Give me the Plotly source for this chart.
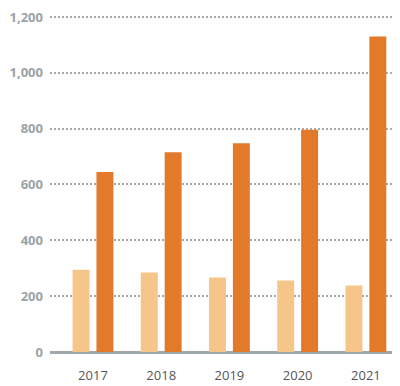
import plotly.graph_objects as go

years = ["2017", "2018", "2019", "2020", "2021"]
series_light = [295, 285, 267, 256, 238]
series_dark = [645, 715, 748, 796, 1130]
y_ticks = [0, 200, 400, 600, 800, 1000, 1200]
y_labels = ["0", "200", "400", "600", "800", "1,000", "1,200"]

fig = go.Figure()
fig.add_trace(go.Bar(x=years, y=series_light, marker_color="#F5C589", marker_line_width=0, name="A"))
fig.add_trace(go.Bar(x=years, y=series_dark, marker_color="#E37A2A", marker_line_width=0, name="B"))

fig.update_layout(
    width=392, height=378,
    margin=dict(l=42, r=0, t=7, b=34),
    paper_bgcolor="white", plot_bgcolor="white",
    showlegend=False,
    barmode="group", bargap=0.30, bargroupgap=0.29,
    xaxis=dict(
        type="category", range=[-0.63, 4.5], showgrid=False,
        tickfont=dict(family="Open Sans", size=13, color="#555555"),
        ticks="", ticklabelstandoff=14, automargin=False,
        showline=False, zeroline=False,
    ),
    yaxis=dict(
        range=[0, 1207], tickvals=y_ticks, ticktext=y_labels,
        tickfont=dict(family="Open Sans", size=13, color="#9AA3A6", weight="bold"),
        showgrid=True, gridcolor="#A3ABAE", gridwidth=2, griddash="2px,2px",
        zeroline=True, zerolinecolor="#9EA8AB", zerolinewidth=3,
        ticks="", ticklabelstandoff=6, showline=False,
        ticklabeloverflow="allow", automargin=False,
    ),
)

fig.write_html("out.html")
